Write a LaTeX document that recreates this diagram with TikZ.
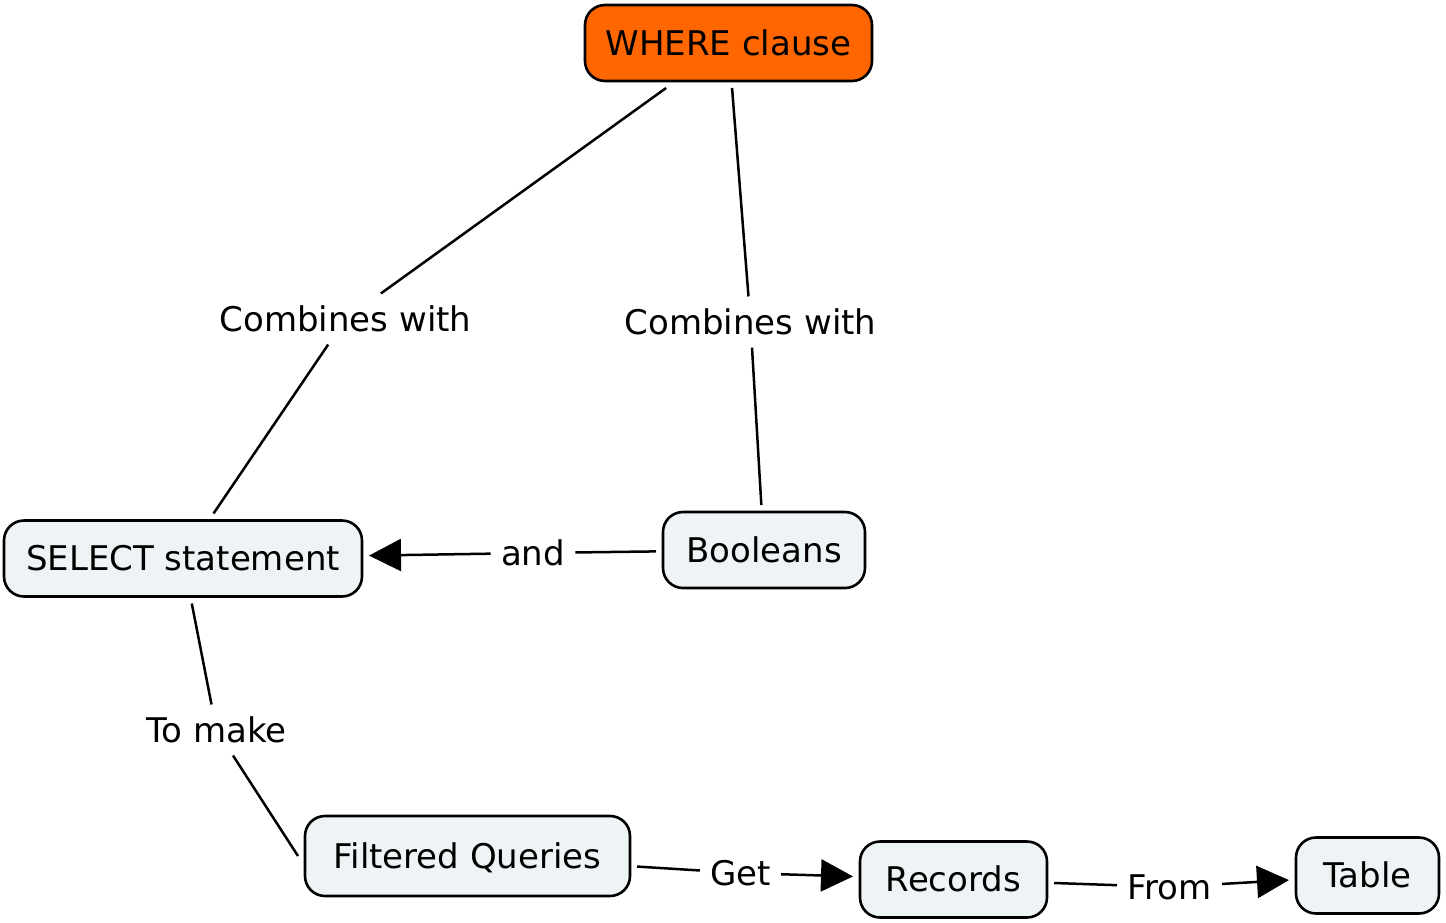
\documentclass[tikz,border=0pt]{standalone}
\usepackage{fontspec}
\setmainfont{DejaVu Sans}
\usetikzlibrary{arrows.meta,positioning}
\definecolor{whereorange}{RGB}{255,102,0}
\definecolor{conceptfill}{RGB}{238,243,245}

\begin{document}
\begin{tikzpicture}[
  x=0.5pt, y=-0.5pt,
  C/.style={
    rectangle, rounded corners=10pt,
    draw=black, line width=1.3pt, fill=conceptfill,
    font=\fontsize{17}{20}\selectfont, align=center,
    text height=13pt, text depth=0.6pt,
    minimum height=38pt, outer sep=3.5pt
  },
  TOP/.style={C, fill=whereorange},
  L/.style={font=\fontsize{17}{20}\selectfont, inner xsep=5pt, inner ysep=6pt},
  link/.style={draw=black, line width=1.25pt},
  arr/.style={link, -{Triangle[length=16pt,width=16pt]}}
]
\useasboundingbox (0,0) rectangle (1446,922);

\node[TOP, minimum width=143.5pt] (W)  at (728.5,43)   {WHERE clause};
\node[C, minimum width=179pt]     (S)  at (183,558.5)  {SELECT statement};
\node[C, minimum width=101pt]     (B)  at (764,550)    {Booleans};
\node[C, minimum width=162.5pt, minimum height=40pt] (FQ) at (467.5,856) {Filtered Queries};
\node[C, minimum width=93.5pt]    (R)  at (953.5,879.5){Records};
\node[C, minimum width=71.5pt]    (T)  at (1367.5,875.5){Table};

\node[L] (CW1)  at (345.5,319) {Combines with};
\node[L] (CW2)  at (750.5,322) {Combines with};
\node[L] (AND)  at (533,553)   {and};
\node[L] (TM)   at (216.5,730) {To make};
\node[L] (GET)  at (740.5,873) {Get};
\node[L] (FROM) at (1169.5,887){From};

\draw[link] (W) -- (CW1);
\draw[link] (CW1) -- (S);
\draw[link] (W) -- (CW2);
\draw[link] (CW2) -- (B);
\draw[link] (B) -- (AND);
\draw[arr]  (AND) -- (S);
\draw[link] (S) -- (TM);
\draw[link] (TM) -- (FQ.west);
\draw[link] (FQ) -- (GET);
\draw[arr]  (GET) -- (R);
\draw[link] (R) -- (FROM);
\draw[arr]  (FROM) -- (T);

\end{tikzpicture}
\end{document}
